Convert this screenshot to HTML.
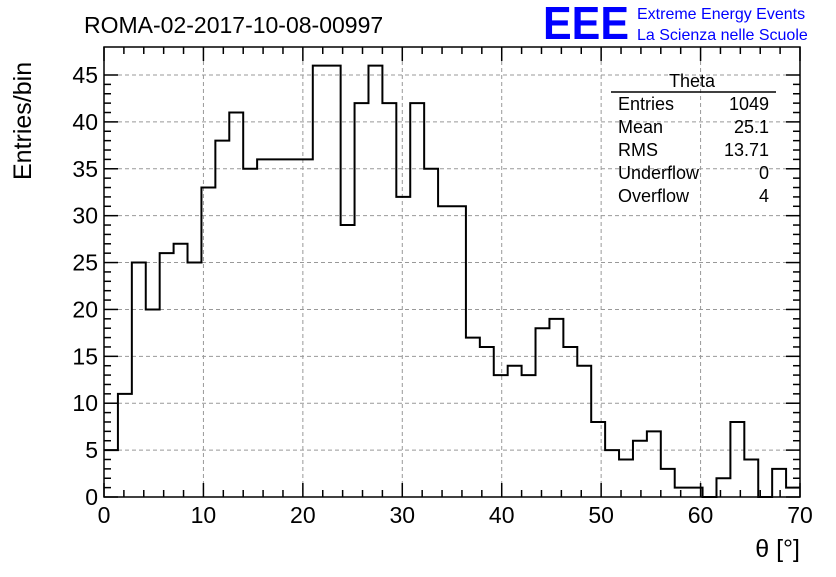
<!DOCTYPE html>
<html><head><meta charset="utf-8"><style>
body{margin:0;background:#fff;}
svg text{font-family:"Liberation Sans",sans-serif;}
</style></head><body>
<svg id="c" width="836" height="572" xmlns="http://www.w3.org/2000/svg">
<rect width="836" height="572" fill="#fff"/>
<text x="84" y="33" font-size="23">ROMA-02-2017-10-08-00997</text>
<text x="543" y="39" font-size="46" fill="#0000ff" font-weight="bold" textLength="86" lengthAdjust="spacingAndGlyphs">EEE</text>
<text x="637" y="19" font-size="16" fill="#0000ff">Extreme Energy Events</text>
<text x="637" y="40" font-size="16" fill="#0000ff">La Scienza nelle Scuole</text>
<g id="grid"></g>
<g id="ticks"></g>
<path id="hist" fill="none" stroke="#000" stroke-width="2"/>
<rect x="104" y="47" width="696" height="450" fill="none" stroke="#000" stroke-width="1.5"/>
<g font-size="18">
<text x="692" y="87" text-anchor="middle">Theta</text>
<line x1="611" y1="92" x2="776" y2="92" stroke="#000" stroke-width="1.5"/>
<text x="618" y="110">Entries</text><text x="769" y="110" text-anchor="end">1049</text>
<text x="618" y="133">Mean</text><text x="769" y="133" text-anchor="end">25.1</text>
<text x="618" y="156">RMS</text><text x="769" y="156" text-anchor="end">13.71</text>
<text x="618" y="179">Underflow</text><text x="769" y="179" text-anchor="end">0</text>
<text x="618" y="202">Overflow</text><text x="769" y="202" text-anchor="end">4</text>
</g>
<text x="800" y="557" font-size="25" text-anchor="end">θ [°]</text>
<text transform="translate(31,180) rotate(-90)" font-size="25">Entries/bin</text>
</svg>
<script>
const counts=[5,11,25,20,26,27,25,33,38,41,35,36,36,36,36,46,46,29,42,46,42,32,42,35,31,31,17,16,13,14,13,18,19,16,14,8,5,4,6,7,3,1,1,0,2,8,4,0,3,1];
const xTicks=[0,10,20,30,40,50,60,70];
const yTicks=[0,5,10,15,20,25,30,35,40,45];
const binWidth=1.4;
const X=v=>104+v*(696/70), Y=v=>497-v*(422/45);
const NS="http://www.w3.org/2000/svg";
function mk(p,t,a){const e=document.createElementNS(NS,t);for(const k in a)e.setAttribute(k,a[k]);p.appendChild(e);return e;}
const grid=document.getElementById('grid'), tk=document.getElementById('ticks');
xTicks.forEach(v=>{
 if(v>0&&v<70){const g=mk(grid,'line',{x1:X(v),x2:X(v),y1:47,y2:497,stroke:'#999','stroke-dasharray':'4,3'});
 
 }
 const t=mk(tk,'text',{x:X(v),y:523,'font-size':23,'text-anchor':'middle'});t.textContent=v;
 
 
});
yTicks.forEach(v=>{
 if(v>0){const g=mk(grid,'line',{x1:104,x2:800,y1:Y(v),y2:Y(v),stroke:'#999','stroke-dasharray':'4,3'});
 
 }
 const t=mk(tk,'text',{x:98,y:Y(v)+8,'font-size':23,'text-anchor':'end'});t.textContent=v;
 
 
});
for(let v=0;v<=70;v+=2){const L=v%10===0?14:7;
 mk(tk,'line',{x1:X(v),x2:X(v),y1:497,y2:497-L,stroke:'#000','stroke-width':1.5});
 mk(tk,'line',{x1:X(v),x2:X(v),y1:47,y2:47+L,stroke:'#000','stroke-width':1.5});}
for(let v=0;v<=45;v++){const L=v%5===0?14:7;
 mk(tk,'line',{x1:104,x2:104+L,y1:Y(v),y2:Y(v),stroke:'#000','stroke-width':1.5});
 mk(tk,'line',{x1:800,x2:800-L,y1:Y(v),y2:Y(v),stroke:'#000','stroke-width':1.5});}
let d='';
counts.forEach((c,i)=>{const x0=X(i*binWidth),x1=X((i+1)*binWidth);
 d+=(i===0?'M'+x0+','+Y(c):'V'+Y(c))+'H'+x1;});
document.getElementById('hist').setAttribute('d',d);
</script>
</body></html>
